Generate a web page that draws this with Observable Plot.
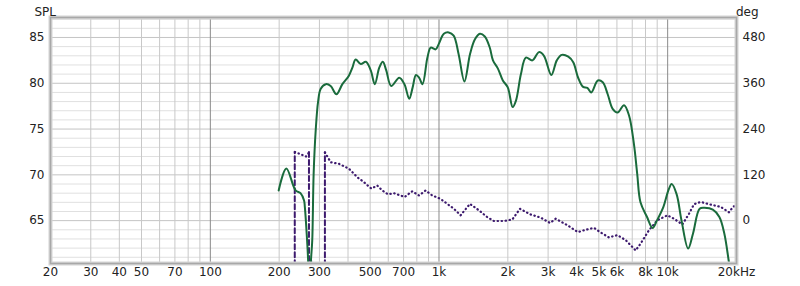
<!DOCTYPE html>
<html>
<head>
<meta charset="utf-8">
<script src="https://cdn.jsdelivr.net/npm/d3@7"></script>
<script src="https://cdn.jsdelivr.net/npm/@observablehq/plot@0.6"></script>
<style>
  html, body { margin: 0; padding: 0; background: #fff; }
  #chart svg { display: block; }
</style>
</head>
<body>
<div id="chart"></div>
<script>
// SPL magnitude (dB) vs frequency (Hz)
const splF = [199, 215, 236, 248, 257, 259, 265, 268, 271, 275, 279, 283, 289, 296, 304, 320, 336, 356, 378, 403, 418, 432, 455, 479, 503, 524, 548, 568, 588, 618, 670, 706, 741, 767, 793, 819, 847, 890, 920, 966, 998, 1050, 1103, 1159, 1218, 1292, 1367, 1436, 1509, 1586, 1667, 1722, 1810, 1902, 1999, 2100, 2171, 2282, 2398, 2561, 2738, 2877, 3100, 3275, 3441, 3676, 3864, 4060, 4267, 4455, 4633, 4951, 5202, 5467, 5746, 6038, 6445, 6773, 7116, 7359, 7605, 8125, 8590, 8970, 9580, 10070, 10410, 10940, 11500, 12290, 12910, 13800, 14500, 15760, 16830, 17690, 18470, 19000];
const splDb = [68.3, 70.7, 68.3, 68.0, 67.2, 66.5, 62.8, 60.3, 52, 60.3, 62.8, 70.1, 74.9, 78.0, 79.4, 79.9, 79.7, 78.8, 79.9, 80.8, 81.7, 82.6, 82.1, 82.35, 81.4, 79.9, 81.7, 82.35, 81.4, 79.7, 80.6, 79.9, 78.3, 79.55, 80.9, 80.6, 79.9, 82.8, 83.9, 83.7, 84.3, 85.4, 85.55, 85.2, 83.2, 80.2, 83.2, 84.8, 85.4, 85.1, 83.9, 82.5, 81.6, 80.3, 79.55, 77.4, 78.1, 81.0, 82.8, 82.5, 83.4, 83.0, 80.9, 82.5, 83.1, 82.9, 82.3, 80.6, 79.6, 79.5, 79.0, 80.3, 80.1, 78.8, 77.2, 76.8, 77.6, 76.5, 73.4, 70.1, 67.0, 65.4, 64.2, 65.0, 66.5, 68.3, 69.0, 67.9, 65.0, 61.95, 63.6, 66.3, 66.4, 66.2, 65.4, 63.6, 60.7, 58.5];

// Wrapped phase (deg), dotted segments
const phaseSeg = [0, 0, 1, 1, 1, 1, 1, 2, 2, 2, 2, 2,
  3, 3, 3, 3, 3, 3, 3, 3, 3, 3, 3, 3, 3, 3, 3, 3, 3, 3, 3, 3, 3, 3, 3, 3, 3, 3, 3, 3, 3, 3, 3, 3, 3, 3, 3, 3, 3, 3, 3, 3, 3, 3, 3, 3, 3, 3, 3, 3, 3, 3, 3, 3, 3, 3];
const phaseF = [199, 234, 234, 248, 262, 268, 270, 270, 276, 281, 300, 317,
  317, 336, 365, 404, 439, 469, 506, 537, 565, 598, 635, 707, 764, 817, 874, 935, 1016, 1087, 1162, 1243, 1366, 1495, 1627, 1739, 1922, 2092, 2260, 2516, 2784, 3058, 3238, 3642, 4052, 4378, 4762, 5093, 5537, 6026, 6551, 7246, 7620, 8285, 9016, 9972, 10658, 11598, 12394, 13036, 13946, 15424, 17062, 18544, 19384, 20000];
const phaseDeg = [-112, -180, 180, 174, 168, 176, 180, -180, -105, -115, -160, -180,
  179, 153, 149, 136, 114, 101, 84, 92, 79, 69, 72, 62, 77, 66, 79, 66, 57, 44, 31, 14, 44, 27, 9, -1, -1, 3, 31, 16, 8, -6, 5, -12, -30, -24, -19, -31, -44, -38, -51, -78, -60, -25, 1, 14, 5, -10, 18, 43, 49, 42, 36, 22, 37, 38];

// Phase wrap jumps (dashed)
const wrapF = [234, 270, 317];
const wrapFrom = [-180, 180, -180];
const wrapTo = [180, -180, 179];

// Axes
const xTicks = [20, 30, 40, 50, 70, 100, 200, 300, 500, 700, 1000, 2000, 3000, 4000, 5000, 6000, 8000, 10000, 20000];
const xTickLabels = ["20", "30", "40", "50", "70", "100", "200", "300", "500", "700", "1k", "2k", "3k", "4k", "5k", "6k", "8k", "10k", "20kHz"];
const xMinorGrid = [30, 40, 50, 60, 70, 80, 90, 200, 300, 400, 500, 600, 700, 800, 900, 2000, 3000, 4000, 5000, 6000, 7000, 8000, 9000];
const xMajorGrid = [100, 1000, 10000];
const yTicks = [65, 70, 75, 80, 85];
const yMinorGrid = d3.range(61, 88);
const degTicks = [0, 120, 240, 360, 480];

const spl = splF.map((f, i) => ({f, db: splDb[i]}));
const phase = phaseF.map((f, i) => ({f, deg: phaseDeg[i], seg: phaseSeg[i]}));
const wraps = wrapF.flatMap((f, i) => [{f, deg: wrapFrom[i], k: i}, {f, deg: wrapTo[i], k: i}]);
const degToDb = d => 65 + d / 24;
const xLabels = xTicks.map((f, i) => ({f, label: xTickLabels[i]}));
const yLabels = yTicks.map((v, i) => ({v, left: String(v), right: String(degTicks[i])}));

const chart = Plot.plot({
  width: 800,
  height: 286,
  marginLeft: 50,
  marginRight: 64,
  marginTop: 17,
  marginBottom: 23,
  style: {fontFamily: "DejaVu Sans, sans-serif", fontSize: "12px", color: "#222", background: "#fff"},
  x: {type: "log", domain: [20, 20000], axis: null},
  y: {domain: [60.32, 87.18], axis: null},
  marks: [
    Plot.ruleY(yMinorGrid.filter(v => v % 5 !== 0), {stroke: "#e0e0e0", strokeWidth: 1}),
    Plot.ruleY(yTicks, {stroke: "#c4c4c4", strokeWidth: 1}),
    Plot.ruleX(xMinorGrid, {stroke: "#c8c8c8", strokeWidth: 1}),
    Plot.ruleX(xMajorGrid, {stroke: "#8a8a8a", strokeWidth: 1}),
    Plot.line(wraps, {x: "f", y: d => degToDb(d.deg), z: "k", stroke: "#3d1a6e", strokeWidth: 2, strokeDasharray: "5,3", clip: true}),
    Plot.line(phase, {x: "f", y: d => degToDb(d.deg), z: "seg", stroke: "#3d1a6e", strokeWidth: 2.2, strokeDasharray: "0.4,3.6", strokeLinecap: "round", clip: true}),
    Plot.line(spl, {x: "f", y: "db", stroke: "#1a6b3c", strokeWidth: 2, curve: "catmull-rom", clip: true}),
    Plot.frame({stroke: "#d4d4d4", strokeWidth: 4}),
    Plot.frame({stroke: "#a8a8a8", strokeWidth: 1.5}),
    Plot.text(xLabels, {x: "f", frameAnchor: "bottom", dy: 12, text: "label", fill: "#222"}),
    Plot.text(yLabels, {y: "v", frameAnchor: "left", dx: -6, textAnchor: "end", text: "left", fill: "#222"}),
    Plot.text(yLabels, {y: "v", frameAnchor: "right", dx: 6, textAnchor: "start", text: "right", fill: "#222"}),
    Plot.text(["SPL"], {frameAnchor: "top-left", dx: -16, dy: -10, text: d => d, fill: "#222"}),
    Plot.text(["deg"], {frameAnchor: "top-right", dx: 22, dy: -10, text: d => d, fill: "#222"})
  ]
});
document.getElementById("chart").appendChild(chart);
</script>
</body>
</html>
